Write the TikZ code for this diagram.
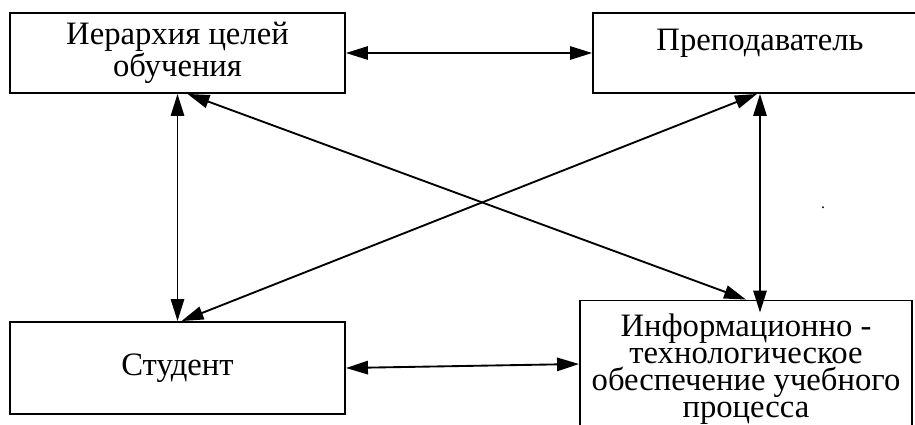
\documentclass[tikz,border=0pt]{standalone}
\usepackage{fontspec}
\setmainfont{Liberation Serif}
\usetikzlibrary{arrows.meta, calc}

\begin{document}
\begin{tikzpicture}[x=0.75pt, y=-0.75pt,
		box/.style={draw, line width=1.4pt, align=center, inner sep=2pt,
			font=\fontsize{24.5}{20.3}\selectfont},
		link/.style={{Triangle[length=16.5pt,width=10pt]}-{Triangle[length=16.5pt,width=10pt]},
			line width=1.4pt}]
		\useasboundingbox (0,0) rectangle (915,425);
		
		\node [box, minimum width=251.25pt, minimum height=60pt] (goals) at (177.5,53) {Иерархия целей\\обучения};
		\node [box, minimum width=250.5pt, minimum height=60pt] (teacher) at (760,53) {Преподаватель\\\mbox{}};
		\node [box, minimum width=251.25pt, minimum height=69pt] (student) at (177.5,368) {Студент};
		\node [box, minimum width=249pt, minimum height=102.75pt] (support) at (746,369) {Информационно -\\технологическое\\обеспечение учебного\\процесса};
		
		\node [inner sep=0pt, font=\fontsize{12}{12}\selectfont] (dot) at (823,208) {.};
		
		\draw [link] (goals.east) -- (teacher.west);
		\draw [link] (goals.south) -- (student.north);
		\draw [link] ($(goals.south)+(10,0)$) -- (support.north);
		\draw [link] ($(student.north)+(4,0)$) -- ($(teacher.south)+(-3,0)$);
		\draw [link] (teacher.south) -- ($(support.north)+(14,13)$);
		\draw [link] (student.east) -- ($(support.west)+(0,-5)$);
	\end{tikzpicture}
\end{document}
